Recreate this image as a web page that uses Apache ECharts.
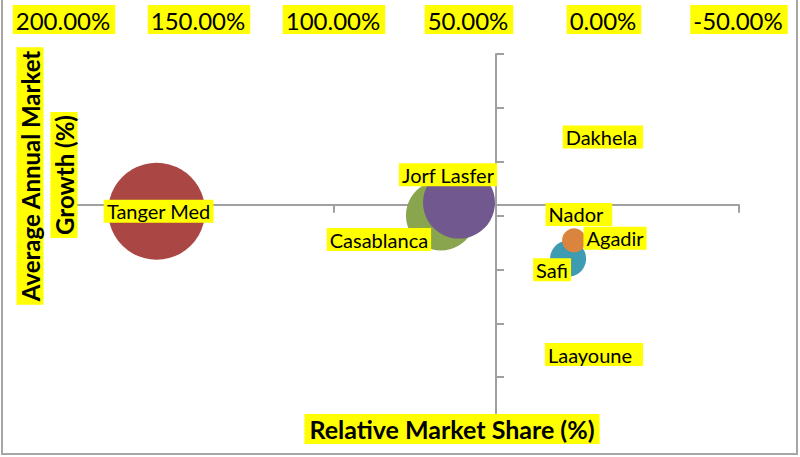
<!DOCTYPE html>
<html>
<head>
<meta charset="utf-8">
<script src="https://cdn.jsdelivr.net/npm/echarts@6/dist/echarts.min.js"></script>
<style>
html,body{margin:0;padding:0;background:#fff;}
#chart{width:800px;height:457px;}
</style>
</head>
<body>
<div id="chart"></div>
<script>
// ---- data ----
const ports = ['Nador', 'Tanger Med', 'Casablanca', 'Jorf Lasfer', 'Safi', 'Agadir', 'Dakhela', 'Laayoune'];
const relativeShare = [9.3, 165.7, 60.4, 53.7, 13.3, 11.1, 0.4, 3.7];      // x, %
const marketGrowth = [20.1, 20.4, 20.0, 21.2, 16.0, 17.7, 27.3, 7.1];       // y
const bubbleVolume = [0, 100, 52, 55, 13.8, 6.1, 0, 0];                       // bubble size value
const xTickValues = [-50, 0, 50, 100, 150, 200];
const yTickValues = [0, 5, 10, 15, 20, 25, 30, 35];
const verticalAxisCrossesAt = 40;   // x value where vertical axis crosses
const horizontalAxisCrossesAt = 21; // y value where horizontal axis crosses

// ---- styles ----
const colors = ['#4572A7', '#AA4643', '#89A54E', '#71588F', '#3F9BB2', '#DB843D', '#92A8CD', '#A47D7C'];
const labelOffsets = [[0, 0], [2, 0], [-62, 24], [-11, -28], [-16, 11], [41, -2], [0, 0], [0, 0]];
const labelPads = [[2, 9, 1, 3], [2, 3, 1, 3], [2, 3, 1, 3], [2, 3, 1, 3], [2, 3, 1, 3], [2, 3, 1, 3], [2, 6, 1, 3], [2, 11, 1, 3]];
const FONT = 'Lato, "Open Sans", sans-serif';
const YELLOW = '#FFFF00';

const xMin = xTickValues[0], xMax = xTickValues[xTickValues.length - 1];
const xInt = xTickValues[1] - xTickValues[0];
const yMin = yTickValues[0], yMax = yTickValues[yTickValues.length - 1];
const yInt = yTickValues[1] - yTickValues[0];

const data = ports.map((p, i) => ({
  name: p,
  value: [relativeShare[i], marketGrowth[i], bubbleVolume[i]],
  itemStyle: { color: colors[i] },
  label: { offset: labelOffsets[i], padding: labelPads[i] }
}));

const chart = echarts.init(document.getElementById('chart'), null, { renderer: 'svg' });
chart.setOption({
  animation: false,
  backgroundColor: '#fff',
  grid: { left: 64, right: 61, top: 54, bottom: 26, containLabel: false },
  xAxis: [
    { // labels at top
      type: 'value', position: 'top', inverse: true,
      min: xMin, max: xMax, interval: xInt,
      axisLine: { show: false, onZero: false },
      axisTick: { show: false },
      splitLine: { show: false },
      axisLabel: {
        formatter: v => v.toFixed(2) + '%',
        fontFamily: FONT, fontSize: 24, color: '#000',
        backgroundColor: YELLOW, padding: [3, 5, 2, 3], margin: 20
      }
    },
    { // horizontal axis line
      type: 'value', position: 'bottom', inverse: true,
      min: xMin, max: xMax, interval: xInt,
      axisLine: { show: true, onZero: true, onZeroAxisIndex: 1, lineStyle: { color: '#A0A0A0', width: 2 } },
      axisTick: { show: true, length: 8, lineStyle: { color: '#A0A0A0', width: 2 } },
      axisLabel: { show: false },
      splitLine: { show: false }
    },
    { // helper axis: its zero sits at the vertical axis crossing
      type: 'value', show: false, inverse: true,
      min: xMin - verticalAxisCrossesAt, max: xMax - verticalAxisCrossesAt,
      axisLine: { onZero: false },
      splitLine: { show: false }
    }
  ],
  yAxis: [
    {
      type: 'value', position: 'left',
      min: yMin, max: yMax, interval: yInt,
      axisLine: { show: true, onZero: true, onZeroAxisIndex: 2, lineStyle: { color: '#A0A0A0', width: 2 } },
      axisTick: { show: true, inside: true, length: 8, lineStyle: { color: '#A0A0A0', width: 2 } },
      axisLabel: { show: false },
      splitLine: { show: false }
    },
    { // helper axis: its zero sits at the horizontal axis crossing
      type: 'value', show: false,
      min: yMin - horizontalAxisCrossesAt, max: yMax - horizontalAxisCrossesAt,
      axisLine: { onZero: false },
      splitLine: { show: false }
    }
  ],
  series: [{
    type: 'scatter',
    xAxisIndex: 0, yAxisIndex: 0,
    data: data,
    symbol: 'circle',
    symbolSize: v => 97 * Math.sqrt(v[2] / 100),
    itemStyle: { opacity: 1 },
    label: {
      show: true, position: 'inside',
      formatter: p => p.name,
      fontFamily: FONT, fontSize: 20, color: '#000',
      backgroundColor: YELLOW
    },
    emphasis: { disabled: true }
  }],
  graphic: [
    {
      type: 'rect', silent: true, z: -1,
      shape: { x: 2, y: -5, width: 795, height: 459 },
      style: { fill: 'none', stroke: '#A6A6A6', lineWidth: 2 }
    },
    {
      type: 'text', x: 30, y: 176, rotation: Math.PI / 2, z: 10,
      style: {
        text: 'Average Annual Market', fontFamily: FONT, fontWeight: 'bold', fontSize: 24,
        fill: '#000', backgroundColor: YELLOW, padding: [3, 3, 0, 3],
        align: 'center', verticalAlign: 'middle'
      }
    },
    {
      type: 'text', x: 64, y: 175, rotation: Math.PI / 2, z: 10,
      style: {
        text: 'Growth (%)', fontFamily: FONT, fontWeight: 'bold', fontSize: 24,
        fill: '#000', backgroundColor: YELLOW, padding: [3, 3, 0, 3],
        align: 'center', verticalAlign: 'middle'
      }
    },
    {
      type: 'text', x: 452, y: 429, z: 10,
      style: {
        text: 'Relative Market Share (%)', fontFamily: FONT, fontWeight: 'bold', fontSize: 25,
        fill: '#000', backgroundColor: YELLOW, padding: [3, 5, 2, 5],
        align: 'center', verticalAlign: 'middle'
      }
    }
  ]
});
</script>
</body>
</html>
